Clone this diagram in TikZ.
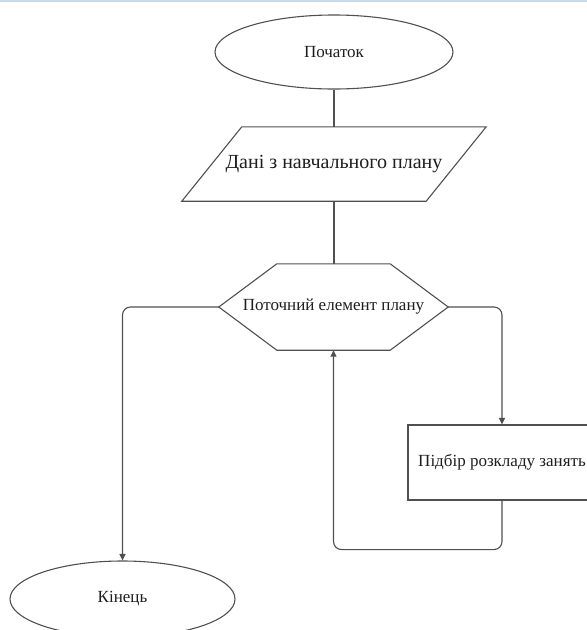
\documentclass[tikz,border=0pt]{standalone}
\usepackage{fontspec}
\setmainfont{Liberation Serif}
\usetikzlibrary{shapes.geometric,arrows.meta,calc}

\definecolor{linec}{RGB}{80,80,80}
\definecolor{textc}{RGB}{30,30,30}
\definecolor{topband}{RGB}{200,218,238}

\tikzset{
  base/.style={text=textc, font=\fontsize{17}{20}\selectfont, inner sep=0pt},
  terminal/.style={base, ellipse, draw=linec, line width=1.1pt,
    minimum width=238pt, minimum height=74pt},
  frame/.style={base, rectangle, draw=none},
  outline/.style={draw=linec, line width=1.1pt, line join=miter},
  procbox/.style={base, rectangle, draw=linec, line width=1.1pt,
    minimum width=188pt, minimum height=75pt},
  link/.style={draw=linec, line width=1.1pt},
  flow/.style={link, rounded corners=8pt,
    -{Triangle[length=6.5pt,width=6pt]}},
}

\begin{document}
\begin{tikzpicture}[x=1pt,y=-1pt]
  % page area
  \path[use as bounding box] (0,0) rectangle (587,630);
  \clip (0,0) rectangle (587,630);
  \fill[white] (0,0) rectangle (587,630);
  \fill[topband] (0,0) rectangle (587,2);

  % start terminal
  \node[terminal] (start) at (334,52) {Початок};

  % input block (parallelogram)
  \node[frame, minimum width=304pt, minimum height=74pt,
        font=\fontsize{20}{24}\selectfont] (data) at (334,164)
        {Дані з навчального плану};
  \draw[outline] ($(data.north west)+(60,0)$) -- (data.north east)
     -- ($(data.south east)+(-60,0)$) -- (data.south west) -- cycle;

  % loop block (hexagon)
  \node[frame, minimum width=229pt, minimum height=86pt] (hex) at (333.5,307)
        {Поточний елемент плану};
  \draw[outline] ($(hex.north west)+(58,0)$) -- ($(hex.north east)+(-58,0)$)
     -- (hex.east) -- ($(hex.south east)+(-58,0)$)
     -- ($(hex.south west)+(58,0)$) -- (hex.west) -- cycle;

  % process block
  \node[procbox] (proc) at (502,462.5) {Підбір розкладу занять};

  % end terminal
  \node[terminal, minimum width=225pt, minimum height=76pt] (finish)
        at (122.5,599) {Кінець};

  % connectors
  \draw[link] (start.south) -- (data.north -| start.south);
  \draw[link] (data.south -| start.south) -- (hex.north -| start.south);
  \draw[flow] (hex.west) -| (finish.north);
  \draw[flow] (hex.east) -| (proc.north);
  \coordinate (loopturn) at ($(proc.south)+(0,49)$);
  \draw[flow] (proc.south) -- (loopturn) -| (hex.south);
\end{tikzpicture}
\end{document}
